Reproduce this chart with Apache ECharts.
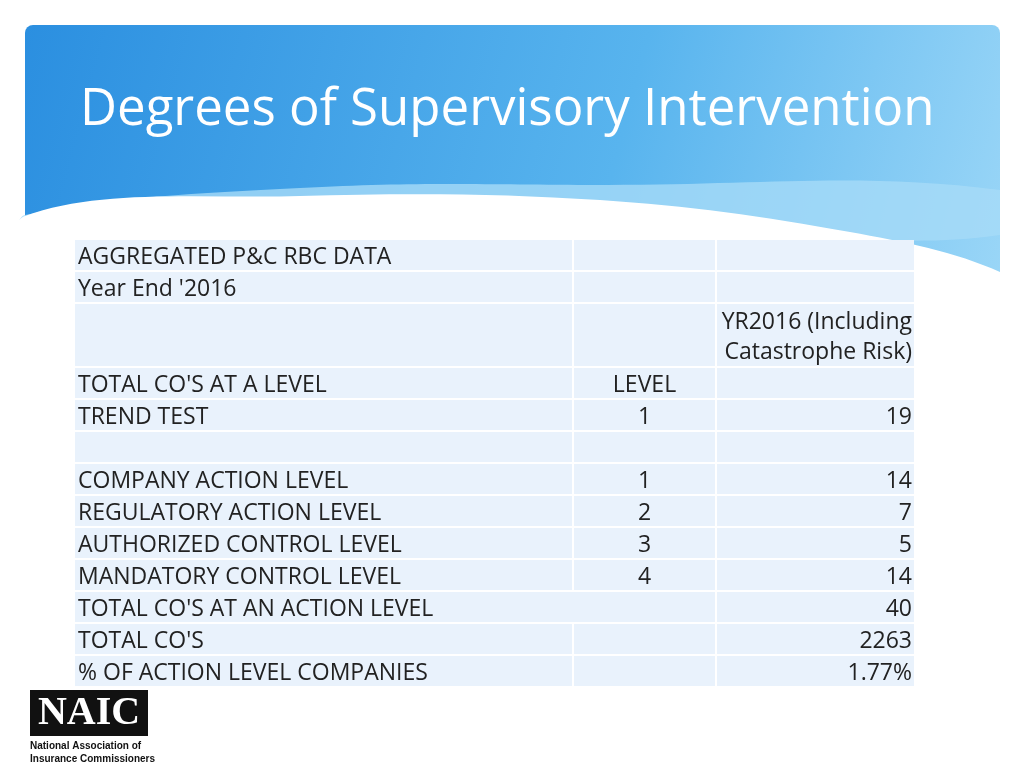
<!DOCTYPE html>
<html><head><meta charset="utf-8">
<script src="https://cdn.jsdelivr.net/npm/echarts@6/dist/echarts.min.js"></script>
<style>html,body{margin:0;padding:0;background:#fff}#main{width:1024px;height:768px}</style>
</head><body><div id="main"></div>
<script>
var chart = echarts.init(document.getElementById('main'));

var rowLabels = ["AGGREGATED P&C RBC DATA", "Year End '2016", "", "TOTAL CO'S AT A LEVEL", "TREND TEST", "",
  "COMPANY ACTION LEVEL", "REGULATORY ACTION LEVEL", "AUTHORIZED CONTROL LEVEL", "MANDATORY CONTROL LEVEL",
  "TOTAL CO'S AT AN ACTION LEVEL", "TOTAL CO'S", "% OF ACTION LEVEL COMPANIES"];
var levels = ["", "", "", "LEVEL", "1", "", "1", "2", "3", "4", "", "", ""];
var values = ["", "", "YR2016 (Including\nCatastrophe Risk)", "", "19", "", "14", "7", "5", "14", "40", "2263", "1.77%"];

var font = '23px "Open Sans", Lato, sans-serif';
var cols = [75, 574, 717, 914];
var els = [];

// header
els.push({type: 'rect', shape: {x: 25, y: 25, width: 975, height: 260, r: 8},
  style: {fill: new echarts.graphic.LinearGradient(0, 0, 1, 1, [
    {offset: 0, color: '#2b8fe0'}, {offset: 0.6, color: '#58b4ee'}, {offset: 1, color: '#9ad6f7'}])}});
els.push({type: 'polygon', shape: {smooth: 0.4, points: [[25, 215], [300, 188], [600, 185], [1000, 190], [1000, 235], [700, 232], [25, 240]]},
  style: {fill: '#a6dbf7', opacity: 0.8}});
els.push({type: 'polygon', shape: {smooth: 0.35, points: [[25, 216], [300, 196], [600, 200], [850, 232], [1000, 272], [1000, 300], [25, 300]]},
  style: {fill: '#ffffff'}});
els.push({type: 'rect', shape: {x: 0, y: 285, width: 1024, height: 20}, style: {fill: '#ffffff'}});
els.push({type: 'rect', shape: {x: 1000, y: 150, width: 24, height: 150}, style: {fill: '#ffffff'}});
els.push({type: 'text', style: {text: 'Degrees of Supervisory Intervention', x: 80, y: 110,
  fill: '#ffffff', font: '51px "Open Sans", Lato, sans-serif', verticalAlign: 'middle'}});

// table
var y = 240;
rowLabels.forEach(function (lab, i) {
  var h = i === 2 ? 62 : 30;
  if (i === 10) {
    els.push({type: 'rect', shape: {x: cols[0], y: y, width: cols[2] - cols[0] - 2, height: h}, style: {fill: '#e9f2fc'}});
  } else {
    els.push({type: 'rect', shape: {x: cols[0], y: y, width: cols[1] - cols[0] - 2, height: h}, style: {fill: '#e9f2fc'}});
    els.push({type: 'rect', shape: {x: cols[1], y: y, width: cols[2] - cols[1] - 2, height: h}, style: {fill: '#e9f2fc'}});
  }
  els.push({type: 'rect', shape: {x: cols[2], y: y, width: cols[3] - cols[2], height: h}, style: {fill: '#e9f2fc'}});
  var ty = y + h / 2 + 2;
  if (lab) els.push({type: 'text', style: {text: lab, x: cols[0] + 3, y: ty, fill: '#222', font: font, verticalAlign: 'middle'}});
  if (levels[i]) els.push({type: 'text', style: {text: levels[i], x: (cols[1] + cols[2]) / 2 - 1, y: ty, fill: '#222', font: font, align: 'center', verticalAlign: 'middle'}});
  if (values[i]) els.push({type: 'text', style: {text: values[i], x: cols[3] - 2, y: ty, fill: '#222', font: font, align: 'right', verticalAlign: 'middle', lineHeight: 30}});
  y += h + 2;
});

// logo
els.push({type: 'rect', shape: {x: 30, y: 690, width: 118, height: 46}, style: {fill: '#111'}});
els.push({type: 'text', style: {text: 'NAIC', x: 89, y: 714, fill: '#fff', font: 'bold 40px "Liberation Serif", serif', align: 'center', verticalAlign: 'middle'}});
els.push({type: 'text', style: {text: 'National Association of\nInsurance Commissioners', x: 30, y: 740, fill: '#111',
  font: 'bold 10px "Liberation Sans Narrow", "Liberation Sans", sans-serif', lineHeight: 13}});

chart.setOption({graphic: {elements: els}});
</script></body></html>
